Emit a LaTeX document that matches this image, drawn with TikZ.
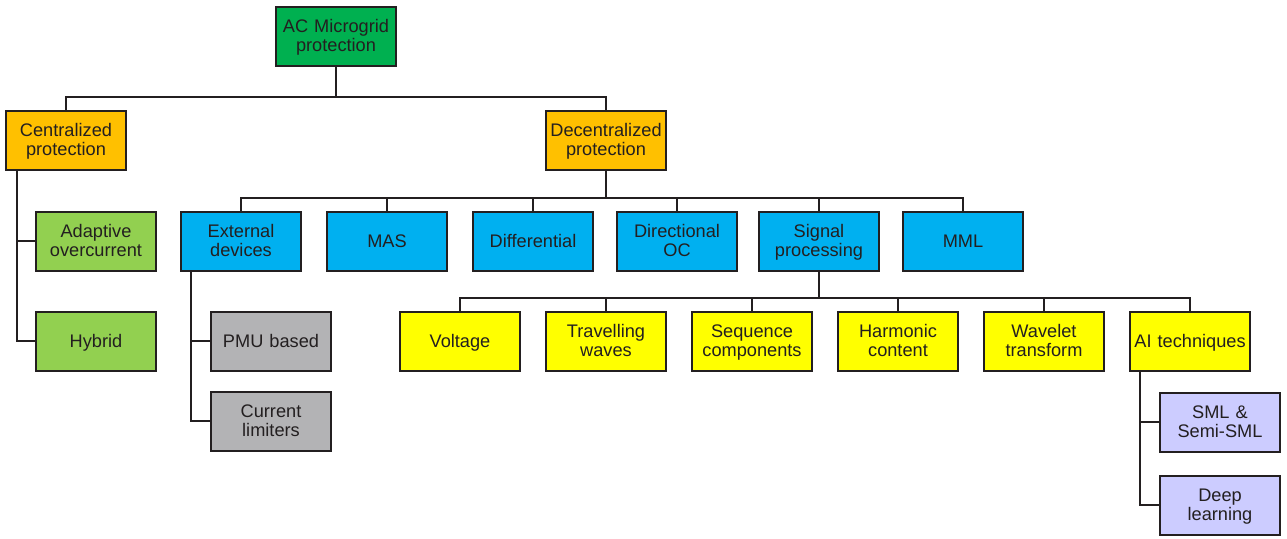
\documentclass[tikz,border=0pt]{standalone}
\usepackage{fontspec}
\setmainfont{Liberation Sans}
\usepackage[svgnames, dvipsnames]{xcolor}
\usetikzlibrary{calc, positioning}

\definecolor{BoxLine}{HTML}{231F20}
\definecolor{TopGreen}{HTML}{00B050}
\definecolor{Amber}{HTML}{FFC000}
\definecolor{LeafGreen}{HTML}{92D050}
\definecolor{SkyBlue}{HTML}{00B0F0}
\definecolor{LeafGray}{HTML}{B3B3B5}
\definecolor{LeafYellow}{HTML}{FFFF00}
\definecolor{Lavender}{HTML}{CCCCFF}

\begin{document}
\begin{tikzpicture}[x=0.5pt, y=-0.5pt,
    box/.style={draw=BoxLine, line width=1pt, minimum width=60pt, minimum height=29.5pt,
        inner sep=1pt, text width=58pt, align=center, text=BoxLine, font=\fontsize{9.1}{9.6}\selectfont,
        execute at begin node={\rule{0pt}{9.2pt}}, execute at end node=\strut},
    link/.style={draw=BoxLine, line width=0.85pt},
    drop/.style={draw=BoxLine, line width=1.1pt}]
    \useasboundingbox (0,0) rectangle (1287,538);

    \node[box, fill=TopGreen] (ac) at (336,36) {AC Microgrid\\protection};
    \node[box, fill=Amber] (cent) at (66,140) {Centralized\\protection};
    \node[box, fill=Amber] (decent) at (606,140) {Decentralized\\protection};

    \node[box, fill=LeafGreen] (adapt) at (96,241) {Adaptive\\overcurrent};
    \node[box, fill=LeafGreen] (hyb) at (96,341) {Hybrid};

    \node[box, fill=SkyBlue] (ext) at (241,241) {External\\devices};
    \node[box, fill=SkyBlue] (mas) at (387,241) {MAS};
    \node[box, fill=SkyBlue] (diff) at (533,241) {Differential};
    \node[box, fill=SkyBlue] (dir) at (677,241) {Directional\\OC};
    \node[box, fill=SkyBlue] (sig) at (819,241) {Signal\\processing};
    \node[box, fill=SkyBlue] (mml) at (963,241) {MML};

    \node[box, fill=LeafGray] (pmu) at (271,341) {PMU based};
    \node[box, fill=LeafGray] (curr) at (271,421) {Current\\limiters};

    \node[box, fill=LeafYellow] (volt) at (460,341) {Voltage};
    \node[box, fill=LeafYellow] (trav) at (606,341) {Travelling\\waves};
    \node[box, fill=LeafYellow] (seq) at (752,341) {Sequence\\components};
    \node[box, fill=LeafYellow] (harm) at (898,341) {Harmonic\\content};
    \node[box, fill=LeafYellow] (wave) at (1044,341) {Wavelet\\transform};
    \node[box, fill=LeafYellow] (ai) at (1190,341) {AI techniques};

    \node[box, fill=Lavender] (sml) at (1220,422) {SML \&\\Semi-SML};
    \node[box, fill=Lavender] (deep) at (1220,505) {Deep\\learning};

    % buses between the levels
    \coordinate (bus1) at (336,97);
    \coordinate (bus2) at (606,198);
    \coordinate (bus3) at (819,298);

    \draw[drop] (ac.south) -- (bus1);
    \draw[link] (cent.north) |- (bus1) -| (decent.north);

    \draw[drop] (decent.south) -- (bus2);
    \draw[link] (ext.north) |- (bus2) -| (mml.north);
    \foreach \n in {mas, diff, dir, sig}
        \draw[link] (\n.north) -- (\n.north |- bus2);

    \draw[drop] (sig.south) -- (bus3);
    \draw[link] (volt.north) |- (bus3) -| (ai.north);
    \foreach \n in {trav, seq, harm, wave}
        \draw[link] (\n.north) -- (\n.north |- bus3);

    \foreach \n in {adapt, hyb}
        \draw[link] ([xshift=6pt]cent.south west) |- (\n.west);
    \foreach \n in {pmu, curr}
        \draw[link] ([xshift=5.5pt]ext.south west) |- (\n.west);
    \foreach \n in {sml, deep}
        \draw[link] ([xshift=5.5pt]ai.south west) |- (\n.west);
\end{tikzpicture}
\end{document}
